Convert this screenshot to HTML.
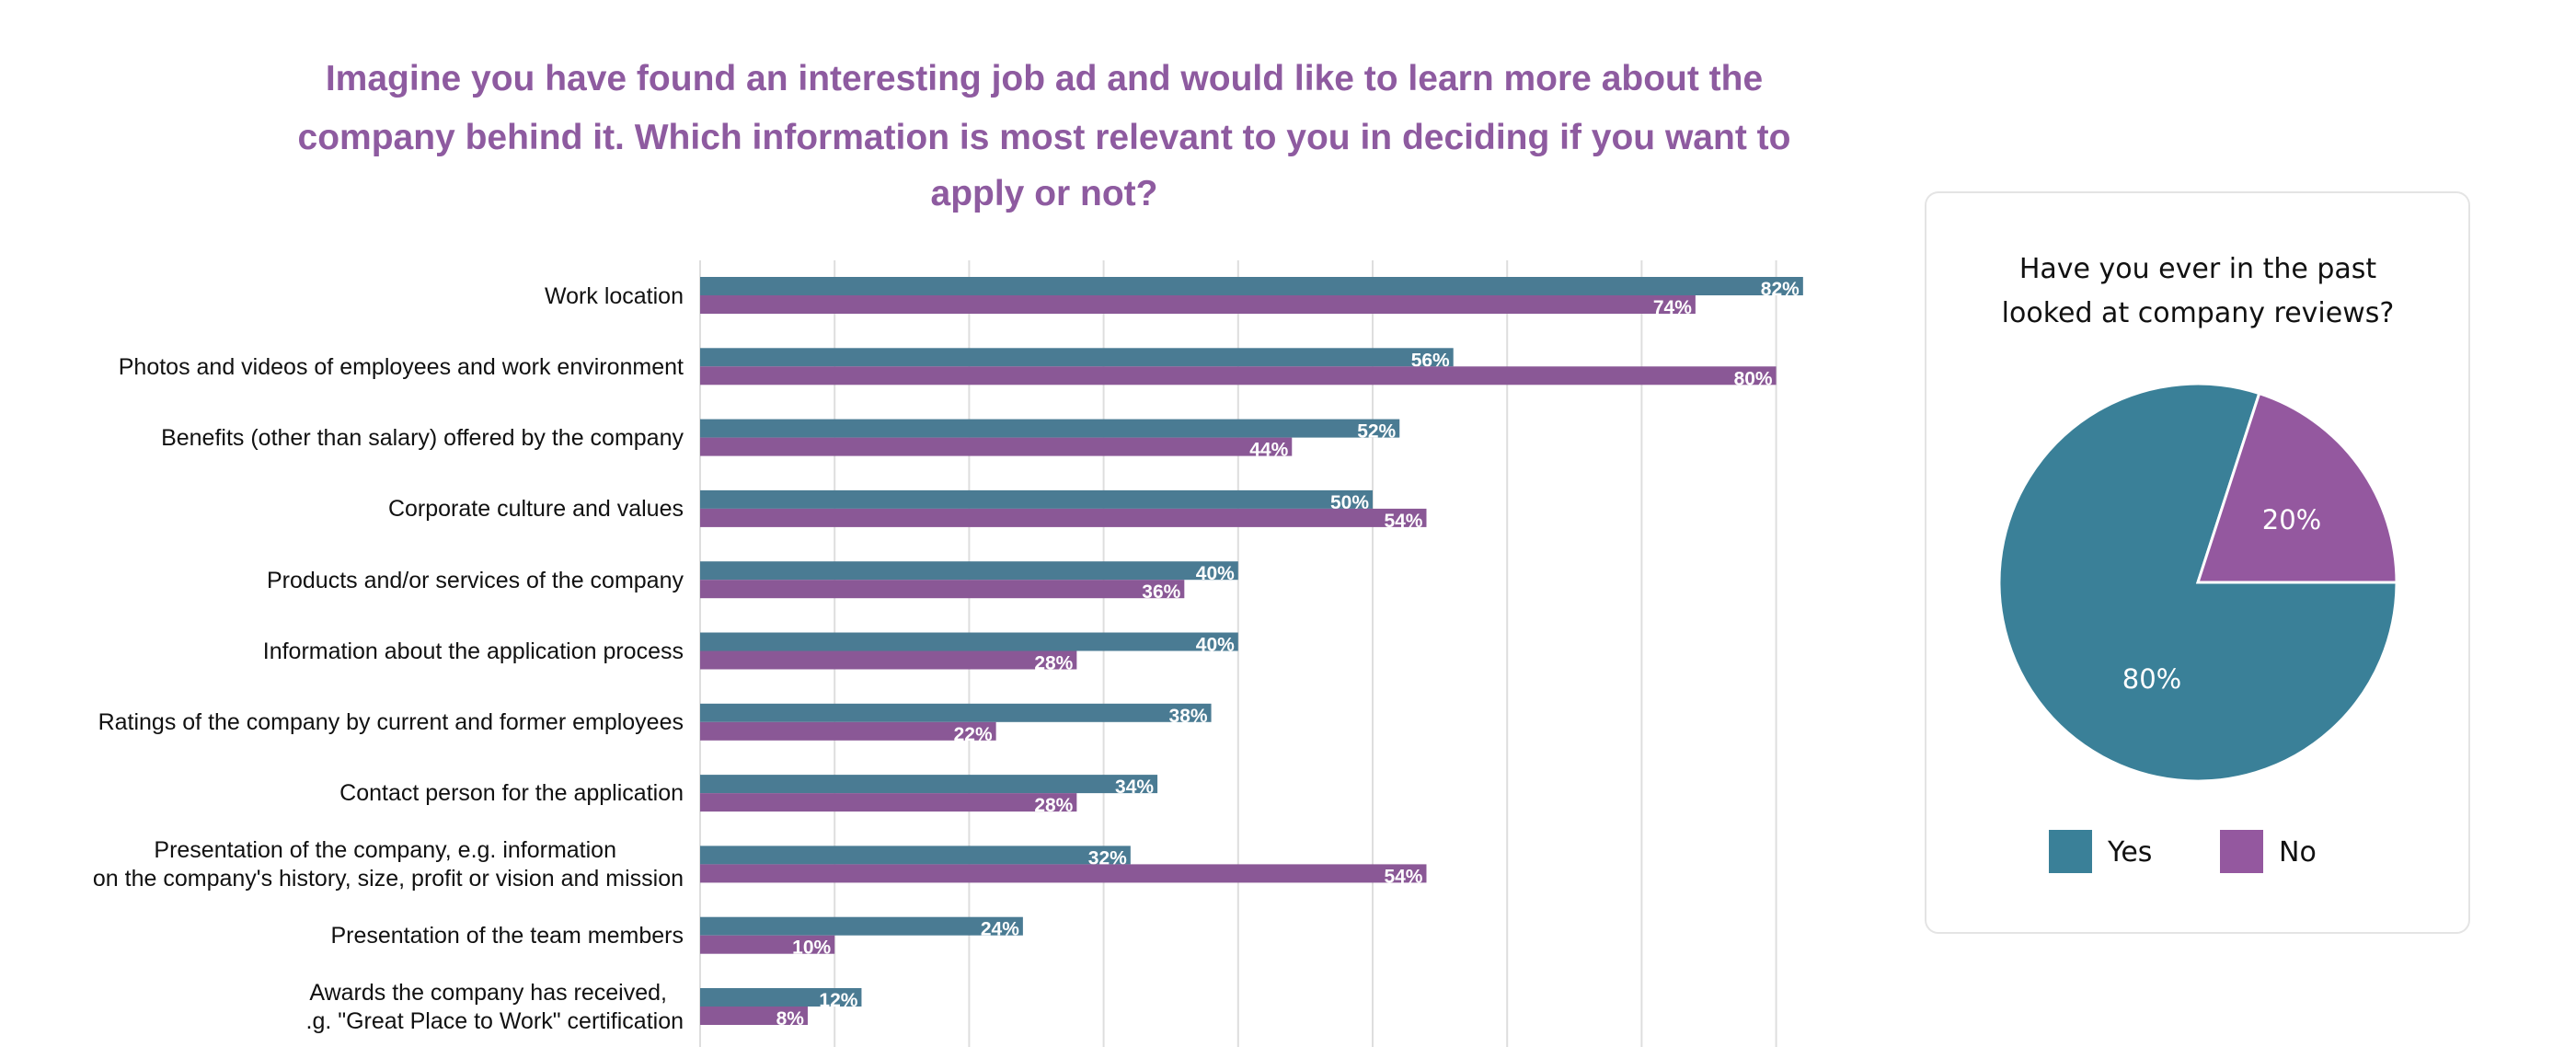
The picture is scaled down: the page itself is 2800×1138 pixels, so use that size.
<!DOCTYPE html>
<html><head><meta charset="utf-8"><style>
html,body{margin:0;padding:0;background:#fff;}
svg{display:block;}
</style></head><body>
<svg width="2800" height="1138" viewBox="0 0 2800 1138" xmlns="http://www.w3.org/2000/svg">
<rect width="2800" height="1138" fill="#fff"/>
<g font-family="Liberation Sans, DejaVu Sans, sans-serif" font-weight="bold" fill="#8e5ba0" font-size="39" text-anchor="middle">
<text x="1135" y="98">Imagine you have found an interesting job ad and would like to learn more about the</text>
<text x="1135" y="162">company behind it. Which information is most relevant to you in deciding if you want to</text>
<text x="1135" y="223">apply or not?</text>
</g>
<g stroke="#dedede" stroke-width="2">
<line x1="761" y1="283" x2="761" y2="1138"/>
<line x1="907.2" y1="283" x2="907.2" y2="1138"/>
<line x1="1053.4" y1="283" x2="1053.4" y2="1138"/>
<line x1="1199.6" y1="283" x2="1199.6" y2="1138"/>
<line x1="1345.8" y1="283" x2="1345.8" y2="1138"/>
<line x1="1492" y1="283" x2="1492" y2="1138"/>
<line x1="1638.2" y1="283" x2="1638.2" y2="1138"/>
<line x1="1784.4" y1="283" x2="1784.4" y2="1138"/>
<line x1="1930.6" y1="283" x2="1930.6" y2="1138"/>
</g>
<g id="bars"></g>
<g font-family="Liberation Sans, Arial, sans-serif" font-size="25" fill="#111" text-anchor="end">
<text x="743" y="330">Work location</text>
<text x="743" y="407">Photos and videos of employees and work environment</text>
<text x="743" y="484">Benefits (other than salary) offered by the company</text>
<text x="743" y="561">Corporate culture and values</text>
<text x="743" y="639">Products and/or services of the company</text>
<text x="743" y="716">Information about the application process</text>
<text x="743" y="793">Ratings of the company by current and former employees</text>
<text x="743" y="870">Contact person for the application</text>
<text x="670" y="932">Presentation of the company, e.g. information</text>
<text x="743" y="963">on the company's history, size, profit or vision and mission</text>
<text x="743" y="1025">Presentation of the team members</text>
<text x="725" y="1087">Awards the company has received,</text>
<text x="743" y="1118">.g. "Great Place to Work" certification</text>
</g>
<rect x="2093" y="209" width="591" height="805" rx="14" fill="#fff" stroke="#e4e4e4" stroke-width="2"/>
<g font-family="DejaVu Sans, Liberation Sans, sans-serif" font-size="30" fill="#111" text-anchor="middle">
<text x="2389" y="302">Have you ever in the past</text>
<text x="2389" y="350">looked at company reviews?</text>
</g>
<path d="M2389,633 L2605,633 A216,216 0 1 1 2455.7,427.6 Z" fill="#3a8098" stroke="#fff" stroke-width="3"/>
<path d="M2389,633 L2455.7,427.6 A216,216 0 0 1 2605,633 Z" fill="#94589f" stroke="#fff" stroke-width="3"/>
<g font-family="DejaVu Sans, Liberation Sans, sans-serif" font-size="29" fill="#fff" text-anchor="middle">
<text x="2491" y="575">20%</text>
<text x="2339" y="748">80%</text>
</g>
<rect x="2227" y="902" width="47" height="47" fill="#3a8098"/>
<rect x="2413" y="902" width="47" height="47" fill="#94589f"/>
<g font-family="DejaVu Sans, Liberation Sans, sans-serif" font-size="30" fill="#111">
<text x="2291" y="936">Yes</text>
<text x="2477" y="936">No</text>
</g>
</svg>
<script>
var d=[[82,74],[56,80],[52,44],[50,54],[40,36],[40,28],[38,22],[34,28],[32,54],[24,10],[12,8]];
var g=document.getElementById('bars'),s='';
for(var i=0;i<d.length;i++){var t=301+77.3*i;
for(var j=0;j<2;j++){var v=d[i][j],w=v*14.62,y=t+j*20;
s+='<rect x="761" y="'+y+'" width="'+w+'" height="20" fill="'+(j?'#8a5896':'#4a7b93')+'"/>';
s+='<text x="'+(761+w-4)+'" y="'+(y+20)+'" text-anchor="end" font-family="Liberation Sans Narrow, Liberation Sans, sans-serif" font-weight="bold" font-size="21" fill="#fff">'+v+'%</text>';}}
g.innerHTML=s;
</script>
</body></html>
